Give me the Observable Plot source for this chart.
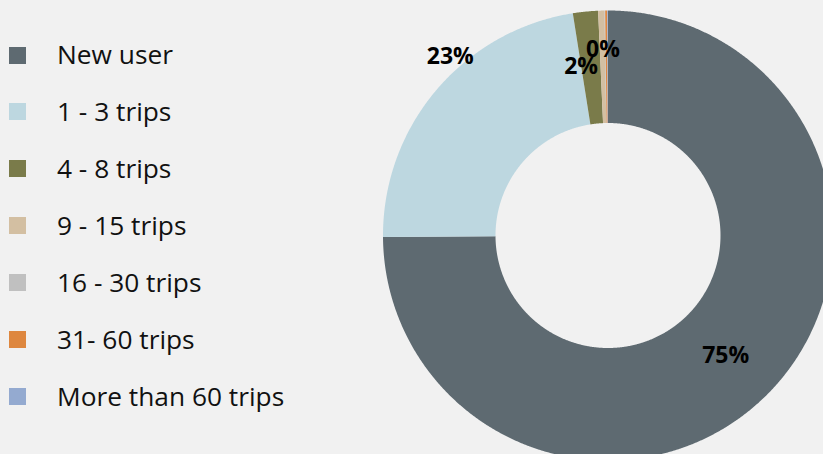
<!DOCTYPE html>
<html>
<head>
<meta charset="utf-8">
<script src="https://cdn.jsdelivr.net/npm/d3@7"></script>
<script src="https://cdn.jsdelivr.net/npm/@observablehq/plot@0.6"></script>
<style>
  html, body { margin: 0; padding: 0; background: #f1f1f1; overflow: hidden; }
  #wrap { position: relative; width: 823px; height: 454px; }
  #legend { position: absolute; left: 0; top: 0; font-family: "Open Sans", sans-serif; font-size: 26.3px; color: #111; }
  .item { position: absolute; left: 0; white-space: nowrap; line-height: normal; }
  .sw { position: absolute; left: 9px; width: 17px; height: 17px; }
  .lb { position: absolute; left: 57px; }
</style>
</head>
<body>
<div id="wrap"><div id="chart"></div><div id="legend"></div></div>
<script>
const categories = ["New user", "1 - 3 trips", "4 - 8 trips", "9 - 15 trips", "16 - 30 trips", "31- 60 trips", "More than 60 trips"];
const shares = [74.9, 22.6, 1.8, 0.45, 0.05, 0.15, 0.05];
const colors = ["#5e6a71", "#bdd7e0", "#7a7b4a", "#d3bfa2", "#c0c0c0", "#de873f", "#94aad0"];
const labelled = ["New user", "1 - 3 trips", "4 - 8 trips", "9 - 15 trips"];

// geometry helpers (unit circle coordinates)
const inner = 0.5;
const total = d3.sum(shares);
const pie = d3.pie().sort(null).value(d => d)(shares);
const polys = [];
const labels = [];
pie.forEach((p, i) => {
  const a0 = p.startAngle, a1 = p.endAngle;
  const n = Math.max(2, Math.ceil((a1 - a0) / 0.005));
  const pts = [];
  for (let k = 0; k <= n; k++) { const a = a0 + (a1 - a0) * k / n; pts.push([Math.sin(a), Math.cos(a)]); }
  for (let k = n; k >= 0; k--) { const a = a0 + (a1 - a0) * k / n; pts.push([inner * Math.sin(a), inner * Math.cos(a)]); }
  pts.forEach(([x, y]) => polys.push({cat: categories[i], x, y}));
  const am = (a0 + a1) / 2, rm = (1 + inner) / 2;
  if (labelled.includes(categories[i])) {
    labels.push({cat: categories[i], x: rm * Math.sin(am), y: rm * Math.cos(am), text: Math.round(shares[i] / total * 100) + "%"});
  }
});
const nudge = {"1 - 3 trips": [-29, -70], "4 - 8 trips": [-10, -1], "9 - 15 trips": [0, -17], "New user": [-2, 1]};

const chart = Plot.plot({
  width: 823, height: 454,
  marginTop: 0, marginRight: 0, marginBottom: 0, marginLeft: 0,
  x: {domain: [-1, 1], range: [382.5, 832.5], axis: null},
  y: {domain: [-1, 1], range: [460, 10], axis: null},
  color: {domain: categories, range: colors},
  style: {background: "#f1f1f1", fontFamily: "Open Sans, sans-serif", overflow: "hidden"},
  marks: [
    Plot.line(polys, {x: "x", y: "y", z: "cat", fill: "cat", stroke: null, curve: "linear-closed"}),
    ...labels.map(l => Plot.text([l], {x: "x", y: "y", text: "text", fontSize: 23, fontWeight: "bold", fill: "#000",
      dx: (nudge[l.cat] || [0, 0])[0], dy: (nudge[l.cat] || [0, 0])[1]}))
  ]
});
document.getElementById("chart").appendChild(chart);

// legend
const leg = document.getElementById("legend");
const rowTop = 55, rowStep = 56.9;
categories.forEach((c, i) => {
  const cy = rowTop + i * rowStep;
  const sw = document.createElement("div");
  sw.className = "sw"; sw.style.top = (cy - 8.5) + "px"; sw.style.background = colors[i];
  leg.appendChild(sw);
  const lb = document.createElement("div");
  lb.className = "lb item"; lb.style.left = "57px"; lb.style.top = (cy - 18.7) + "px"; lb.textContent = c;
  leg.appendChild(lb);
});
</script>
</body>
</html>
